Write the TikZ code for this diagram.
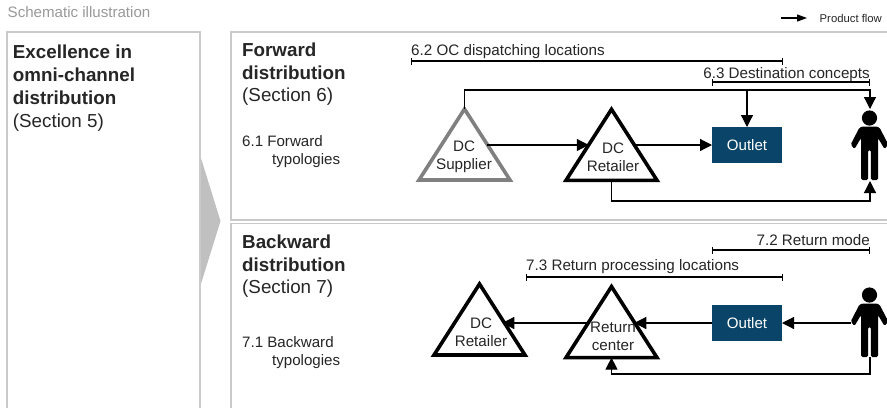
\documentclass[tikz,border=0pt]{standalone}
\usepackage{fontspec}
\setmainfont{Liberation Sans}
\usetikzlibrary{arrows.meta,shapes.geometric,calc}
\definecolor{boxgray}{HTML}{CACACA}
\definecolor{txt}{HTML}{262626}
\definecolor{navy}{HTML}{0A4468}
\tikzset{
  frame/.style={draw=boxgray,line width=1.1pt},
  tri/.style={isosceles triangle,isosceles triangle apex angle=67,isosceles triangle stretches,shape border rotate=90,
    draw=black,fill=white,line width=3.6pt,minimum width=91pt,minimum height=71pt,inner sep=0pt,outer sep=0pt,anchor=lower side,miter limit=10},
  outletbox/.style={draw=none,fill=navy,text=white,minimum width=70pt,minimum height=36pt,inner sep=0pt,outer sep=0pt,font=\fontsize{15.1}{18}\selectfont},
  tlabel/.style={align=center,inner sep=0pt,text=txt,font=\fontsize{15.2}{18}\selectfont},
  lab/.style={inner sep=0pt,text=txt,font=\fontsize{15.2}{18}\selectfont},
  head/.style={inner sep=0pt,text=txt,anchor=base west,font=\fontsize{18.8}{22.7}\selectfont},
  small/.style={inner sep=0pt,text=txt,anchor=base west,font=\fontsize{15.1}{18}\selectfont},
  flow/.style={draw=black,line width=1.2pt,-{Triangle[length=12pt,width=12pt]}},
  bracket/.style={draw=black,line width=1.3pt,{Bar[width=7pt,line width=1.3pt]}-{Bar[width=7pt,line width=1.3pt]}},
  person/.pic={
    \fill[black] (0,0) circle (7.6);
    \fill[black,rounded corners=1.5pt] (-7,8.5) -- (7,8.5) -- (10,9.5) -- (18.8,26.5) -- (15,31) -- (8.5,20) -- (8.5,62) -- (1.3,62) -- (1.3,32) -- (-1.3,32) -- (-1.3,62) -- (-8.5,62) -- (-8.5,20) -- (-15,31) -- (-18.8,26.5) -- (-10,9.5) -- cycle;
  }
}
\begin{document}
\begin{tikzpicture}[x=1pt,y=-1pt]
\useasboundingbox (0,0) rectangle (887,408);
\fill[white] (0,0) rectangle (887,408);
% frames
\fill[boxgray!95!black] (200,155) -- (220.5,221) -- (200,287) -- cycle;
\draw[frame] (7,408) -- (7,32) -- (200,32) -- (200,408);
\draw[frame] (887,32) -- (231,32) -- (231,220) -- (887,220);
\draw[frame] (887,223.5) -- (231,223.5) -- (231,408);
% texts
\node[inner sep=0pt,anchor=base west,text=black!40,font=\fontsize{15.1}{18}\selectfont] (title) at (7.5,17.5) {Schematic illustration};
\node[head] (e1) at (12.7,58.5) {\bfseries Excellence in};
\node[head] (e2) at (12.7,81) {\bfseries omni-channel};
\node[head] (e3) at (12.7,104) {\bfseries distribution};
\node[head] (e4) at (12.7,127) {(Section 5)};
\node[head] (f1) at (242,56) {\bfseries Forward};
\node[head] (f2) at (242,79) {\bfseries distribution};
\node[head] (f3) at (242,101.5) {(Section 6)};
\node[small] (f4) at (242,146) {6.1 Forward};
\node[small] (f5) at (272,164) {typologies};
\node[head] (b1) at (242,248) {\bfseries Backward};
\node[head] (b2) at (242,271) {\bfseries distribution};
\node[head] (b3) at (242,293.5) {(Section 7)};
\node[small] (b4) at (242,347) {7.1 Backward};
\node[small] (b5) at (272,365) {typologies};
% legend
\coordinate (legA) at (781,18);
\coordinate (legB) at (807,18);
\draw[draw=black,line width=1.2pt,-{Triangle[length=10pt,width=7pt]}] (legA) -- (legB);
\node[inner sep=0pt,anchor=base west,text=txt,font=\fontsize{11.3}{13}\selectfont] (legT) at (819.5,22) {Product flow};
% forward brackets
\coordinate (b62a) at (411,61); \coordinate (b62b) at (783,61);
\coordinate (b63a) at (712,82); \coordinate (b63b) at (870,82);
\draw[bracket] (b62a) -- (b62b);
\draw[bracket] (b63a) -- (b63b);
\node[lab,anchor=base west] (l62) at (411,55) {6.2 OC dispatching locations};
\node[lab,anchor=base east] (l63) at (870,78) {6.3 Destination concepts};
% forward nodes
\node[tri,draw=black!50] (sup) at (464.5,180) {};
\node[tri] (ret) at (611.5,180.3) {};
\node[outletbox] (out) at (747,145) {Outlet};
\pic at (869.5,118) {person};
\coordinate (pT) at (870,109);
\coordinate (pB) at (870,181);
\coordinate (bus) at (464.5,90);
\coordinate (busB) at (611.5,201);
\draw[flow] (sup.apex) -- (bus) -| (pT);
\draw[flow] (out.north |- bus) -- (out.north);
\draw[flow] (sup.right side |- out.west) -- (ret.left side |- out.west);
\draw[flow] (ret.right side |- out.west) -- (out.west);
\draw[flow] (ret.lower side) -- (busB) -| (pB);
\node[tlabel] (supT) at (464,157) {DC\\Supplier};
\node[tlabel] (retT) at (613,157) {DC\\Retailer};
% backward brackets
\coordinate (b72a) at (712,250); \coordinate (b72b) at (870,250);
\coordinate (b73a) at (526,277); \coordinate (b73b) at (783,277);
\draw[bracket] (b72a) -- (b72b);
\draw[bracket] (b73a) -- (b73b);
\node[lab,anchor=base east] (l72) at (870,245) {7.2 Return mode};
\node[lab,anchor=base west] (l73) at (526,270.5) {7.3 Return processing locations};
% backward nodes
\node[tri] (dcr) at (479.5,355) {};
\node[tri] (rc) at (611.5,357.6) {};
\node[outletbox] (out2) at (747,323) {Outlet};
\pic at (869.5,295) {person};
\coordinate (pL) at (851,323);
\coordinate (pB2) at (870,357);
\coordinate (busC) at (870,374);
\draw[flow] (pL) -- (out2.east);
\draw[flow] (out2.west) -- (rc.right side |- out2.west);
\draw[flow] (rc.left side |- out2.west) -- (dcr.right side |- out2.west);
\draw[flow] (pB2) -- (busC) -| (rc.lower side);
\node[tlabel] (dcrT) at (481,332) {DC\\Retailer};
\node[tlabel] (rcT) at (613,336) {Return\\center};
\end{tikzpicture}
\end{document}
